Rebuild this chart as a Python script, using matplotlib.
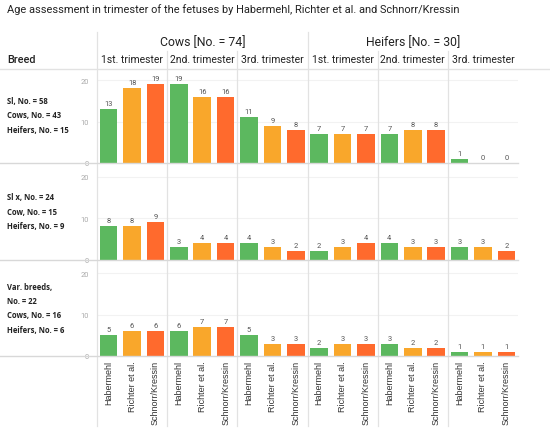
import matplotlib.pyplot as plt
import numpy as np

plt.rcParams['font.family'] = ['Roboto', 'DejaVu Sans']

# data
methods = ['Habermehl', 'Richter et al.', 'Schnorr/Kressin']
groups = ['Cows [No. = 74]', 'Heifers [No. = 30]']
trimesters = ['1st. trimester', '2nd. trimester', '3rd. trimester']
breeds = ['Sl, No. = 58\nCows, No. = 43\nHeifers, No. = 15',
          'Sl x, No. = 24\nCow, No. = 15\nHeifers, No. = 9',
          'Var. breeds,\nNo. = 22\nCows, No. = 16\nHeifers, No. = 6']

# counts[breed][panel] -> (Habermehl, Richter, Schnorr) ; panels: cows 1-3, heifers 1-3
sl_counts = [[13, 18, 19], [19, 16, 16], [11, 9, 8], [7, 7, 7], [7, 8, 8], [1, 0, 0]]
slx_counts = [[8, 8, 9], [3, 4, 4], [4, 3, 2], [2, 3, 4], [4, 3, 3], [3, 3, 2]]
var_counts = [[5, 6, 6], [6, 7, 7], [5, 3, 3], [2, 3, 3], [3, 2, 2], [1, 1, 1]]
counts = [sl_counts, slx_counts, var_counts]

colors = ['#5cb85f', '#f9a72b', '#ff6a2d']
line_c = '#e2e2e2'

W, H = 550, 431
fig = plt.figure(figsize=(W / 100, H / 100), dpi=100)

def fx(px):
    return px / W

def fy(py):
    return 1 - py / H

left, right = 97, 518
pw = (right - left) / 6
row_bottoms = [164, 260.5, 357]
rh = 96.5
ymax = 23.3

fig.text(fx(7), fy(10), 'Age assessment in trimester of the fetuses by Habermehl, Richter et al. and Schnorr/Kressin',
         fontsize=7.9, color='#222222', va='center', ha='left')

# header
for g, name in enumerate(groups):
    cx = left + pw * (3 * g + 1.5)
    fig.text(fx(cx), fy(43), name, fontsize=8.8, color='#222222', ha='center', va='center')
    for t, tri in enumerate(trimesters):
        tx = left + pw * (3 * g + t + 0.5)
        fig.text(fx(tx), fy(60), tri, fontsize=7.5, color='#222222', ha='center', va='center')
fig.text(fx(7), fy(60), 'Breed', fontsize=7.8, color='#222222', ha='left', va='center',
         fontweight='medium')

# separators
fig.add_artist(plt.Line2D([0, fx(550)], [fy(70), fy(70)], color=line_c, lw=1))
for k in range(6):
    x = left + pw * k
    top = 33 if k in (0, 3) else 52
    fig.add_artist(plt.Line2D([fx(x), fx(x)], [fy(top), fy(427)], color=line_c, lw=0.9))

x = np.arange(3)
for r in range(3):
    bottom = row_bottoms[r]
    fig.text(fx(7), fy(bottom - rh / 2), breeds[r], fontsize=5.5, fontweight='bold',
             color='#222222', ha='left', va='center', linespacing=1.75,
             family=['Open Sans', 'DejaVu Sans'])
    fig.add_artist(plt.Line2D([0, fx(right)], [fy(bottom), fy(bottom)], color='#d8d8d8', lw=1))
    for p in range(6):
        ax = fig.add_axes([fx(left + pw * p), fy(bottom), fx(pw), rh / H])
        ax.set_xlim(-0.5, 2.5)
        ax.set_ylim(0, ymax)
        vals = counts[r][p]
        ax.bar(x, vals, width=0.75, color=colors)
        for xi, v in zip(x, vals):
            ax.text(xi, v + 0.5, str(v), ha='center', va='bottom', fontsize=5.4, color='#555555')
        for gy in (10, 20):
            ax.axhline(gy, color='#f2f2f2', lw=0.8, zorder=0)
        ax.patch.set_alpha(0)
        for s in ax.spines.values():
            s.set_visible(False)
        ax.set_yticks([0, 10, 20])
        if p == 0:
            ax.tick_params(axis='y', length=0, labelsize=5.4, labelcolor='#aaaaaa', pad=6)
        else:
            ax.set_yticklabels([])
            ax.tick_params(axis='y', length=0)
        if r == 2:
            ax.set_xticks(x)
            ax.set_xticklabels(methods, rotation=90, fontsize=6.5, color='#333333',
                               family=['Liberation Sans', 'DejaVu Sans'])
            ax.tick_params(axis='x', length=0, pad=3)
        else:
            ax.set_xticks([])

fig.savefig('out.png', dpi=100)
